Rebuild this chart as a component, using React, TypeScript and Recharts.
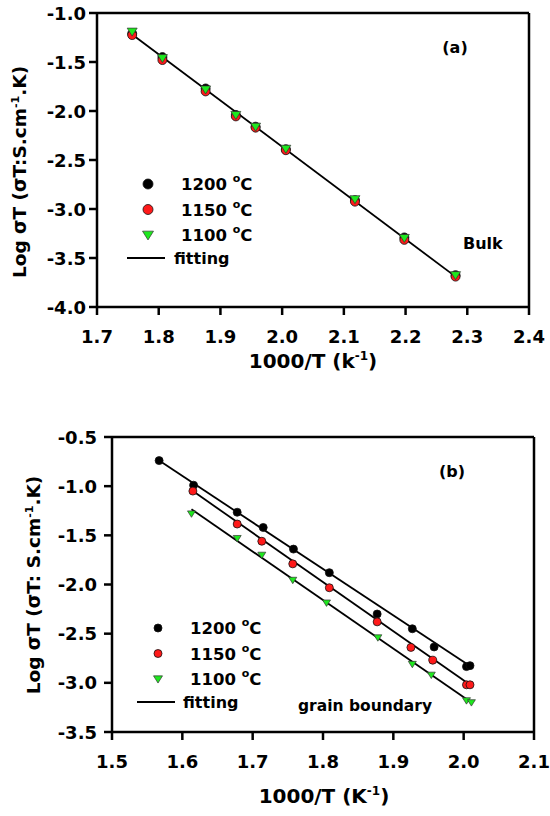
import React from 'react'
import { ComposedChart, Scatter, Line, XAxis, YAxis, ReferenceLine, Customized } from 'recharts'

// (a) bulk
const bulkX = [1.757, 1.806, 1.876, 1.925, 1.957, 2.006, 2.118, 2.198, 2.281]
const bulk1200 = [-1.21, -1.45, -1.77, -2.04, -2.16, -2.39, -2.91, -3.29, -3.675]
const bulk1150 = [-1.225, -1.48, -1.8, -2.055, -2.17, -2.4, -2.925, -3.315, -3.69]
const bulk1100 = [-1.19, -1.46, -1.78, -2.04, -2.16, -2.385, -2.9, -3.295, -3.675]
const bulkFitX = [1.757, 2.281]
const bulkFitY = [-1.22, -3.69]
const xTicksA = [1.7, 1.8, 1.9, 2.0, 2.1, 2.2, 2.3, 2.4]
const yTicksA = [-4.0, -3.5, -3.0, -2.5, -2.0, -1.5, -1.0]

// (b) grain boundary
const gb1200X = [1.567, 1.616, 1.678, 1.715, 1.758, 1.809, 1.877, 1.927, 1.958, 2.004, 2.009]
const gb1200 = [-0.74, -0.99, -1.265, -1.42, -1.64, -1.88, -2.3, -2.45, -2.635, -2.835, -2.825]
const gb1150X = [1.615, 1.678, 1.713, 1.757, 1.809, 1.877, 1.925, 1.956, 2.004, 2.009]
const gb1150 = [-1.05, -1.385, -1.56, -1.79, -2.033, -2.38, -2.64, -2.77, -3.02, -3.02]
const gb1100X = [1.613, 1.678, 1.713, 1.757, 1.805, 1.878, 1.927, 1.954, 2.004, 2.011]
const gb1100 = [-1.28, -1.53, -1.7, -1.955, -2.186, -2.54, -2.81, -2.92, -3.18, -3.2]
const gbFit1200X = [1.567, 2.009]
const gbFit1200Y = [-0.74, -2.83]
const gbFit1150X = [1.615, 2.009]
const gbFit1150Y = [-1.05, -3.02]
const gbFit1100X = [1.613, 2.011]
const gbFit1100Y = [-1.235, -3.2]
const xTicksB = [1.5, 1.6, 1.7, 1.8, 1.9, 2.0, 2.1]
const yTicksB = [-3.5, -3.0, -2.5, -2.0, -1.5, -1.0, -0.5]

const seriesNames = ['1200', '1150', '1100']

const FONT = '"DejaVu Sans", sans-serif'
const RED = '#ff1a1a'
const GREEN = '#1ee81e'

const zip = (xs: number[], ys: number[]) => xs.map((x, i) => ({ x, y: ys[i] }))

const circleShape = (fill: string, r: number) => (p: any) => (
  <circle cx={p.cx} cy={p.cy} r={r} fill={fill} stroke="#111" strokeWidth={0.8} />
)
const triPath = (cx: number, cy: number, s: number) =>
  `M${cx - s},${cy - s * 0.7}L${cx + s},${cy - s * 0.7}L${cx},${cy + s * 0.9}Z`
const triShape = (s: number) => (p: any) => (
  <path d={triPath(p.cx, p.cy, s)} fill={GREEN} stroke="#333" strokeWidth={0.7} />
)

const XTick = (props: any) => {
  const { x, y, payload } = props
  return (
    <text x={x} y={y} dy={26} textAnchor="middle" fontFamily={FONT} fontWeight="bold" fontSize={18} fill="#000">
      {payload.value.toFixed(1)}
    </text>
  )
}
const makeYTick = (shift: number) => (props: any) => {
  const { x, y, payload } = props
  return (
    <text x={x - shift} y={y} dy={6.5} textAnchor="end" fontFamily={FONT} fontWeight="bold" fontSize={18} fill="#000">
      {payload.value.toFixed(1)}
    </text>
  )
}

const t = { fontFamily: FONT, fontWeight: 'bold' as const, fill: '#000' }

// legend keys at pixel spots inside the chart
const LegendKeys = ({ lx, ty, textX, fitX, r, s }: any) => (
  <g>
    {[0, 1, 2].map(i => {
      const cy = ty + i * 25.5
      return (
        <g key={i}>
          {i === 0 && <circle cx={lx} cy={cy} r={r} fill="#000" stroke="#111" strokeWidth={0.8} />}
          {i === 1 && <circle cx={lx} cy={cy} r={r} fill={RED} stroke="#111" strokeWidth={0.8} />}
          {i === 2 && <path d={triPath(lx, cy, s)} fill={GREEN} stroke="#333" strokeWidth={0.7} />}
          <text {...t} x={textX} y={cy + 6} fontSize={16.5}>
            {seriesNames[i]} <tspan dy={-8} fontSize={11}>o</tspan><tspan dy={8}>C</tspan>
          </text>
        </g>
      )
    })}
    <path d={`M${lx - 21},${ty + 74}H${lx + 17}`} stroke="#000" strokeWidth={2} />
    <text {...t} x={fitX} y={ty + 80} fontSize={16}>fitting</text>
  </g>
)

const TextsA = () => (
  <g>
    <LegendKeys lx={148} ty={184} textX={181} fitX={174} r={5} s={5.5} />
    <text {...t} fontSize={18.5} textAnchor="middle" transform="translate(26,172) rotate(-90)">
      Log σT (σT:S.cm<tspan dy={-7} fontSize={11}>-1</tspan><tspan dy={7}>.K)</tspan>
    </text>
    <text {...t} fontSize={20} textAnchor="middle" x={313} y={368}>
      1000/T (k<tspan dy={-8} fontSize={12}>-1</tspan><tspan dy={8}>)</tspan>
    </text>
    <text {...t} fontSize={16} textAnchor="middle" x={455} y={53}>(a)</text>
    <text {...t} fontSize={16} x={463} y={249}>Bulk</text>
  </g>
)

const TextsB = () => (
  <g>
    <LegendKeys lx={158} ty={220} textX={190} fitX={183} r={4} s={4.5} />
    <text {...t} fontSize={18.5} textAnchor="middle" transform="translate(40,177) rotate(-90)">
      Log σT (σT: S.cm<tspan dy={-7} fontSize={11}>-1</tspan><tspan dy={7}>.K)</tspan>
    </text>
    <text {...t} fontSize={20} textAnchor="middle" x={324} y={395}>
      1000/T (K<tspan dy={-8} fontSize={12}>-1</tspan><tspan dy={8}>)</tspan>
    </text>
    <text {...t} fontSize={16} textAnchor="middle" x={452} y={69}>(b)</text>
    <text {...t} fontSize={15.5} x={298} y={303}>grain boundary</text>
  </g>
)

function PanelA() {
  return (
    <ComposedChart width={550} height={408} margin={{ top: 13, right: 21, bottom: 0, left: 0 }}>
      <XAxis type="number" dataKey="x" domain={[1.7, 2.4]} ticks={xTicksA}
        tick={<XTick />} tickSize={8} stroke="#000" strokeWidth={2.5} height={101} />
      <YAxis type="number" dataKey="y" domain={[-4, -1]} ticks={yTicksA}
        tick={makeYTick(1)} tickSize={8} stroke="#000" strokeWidth={2.5} width={97} />
      <ReferenceLine y={-1} stroke="#000" strokeWidth={2.5} />
      <ReferenceLine x={2.4} stroke="#000" strokeWidth={2.5} />
      <Line data={zip(bulkFitX, bulkFitY)} dataKey="y" stroke="#000" strokeWidth={1.8} dot={false} isAnimationActive={false} legendType="none" />
      <Scatter data={zip(bulkX, bulk1200)} dataKey="y" shape={circleShape('#000', 4.5)} isAnimationActive={false} />
      <Scatter data={zip(bulkX, bulk1150)} dataKey="y" shape={circleShape(RED, 4.5)} isAnimationActive={false} />
      <Scatter data={zip(bulkX, bulk1100)} dataKey="y" shape={triShape(5)} isAnimationActive={false} />
      <Customized component={TextsA} />
    </ComposedChart>
  )
}

function PanelB() {
  return (
    <ComposedChart width={550} height={408} margin={{ top: 29, right: 16, bottom: 0, left: 0 }}>
      <XAxis type="number" dataKey="x" domain={[1.5, 2.1]} ticks={xTicksB}
        tick={<XTick />} tickSize={8} stroke="#000" strokeWidth={2.5} height={84} />
      <YAxis type="number" dataKey="y" domain={[-3.5, -0.5]} ticks={yTicksB}
        tick={makeYTick(5)} tickSize={8} stroke="#000" strokeWidth={2.5} width={112} />
      <ReferenceLine y={-0.5} stroke="#000" strokeWidth={2.5} />
      <ReferenceLine x={2.1} stroke="#000" strokeWidth={2.5} />
      <Line data={zip(gbFit1200X, gbFit1200Y)} dataKey="y" stroke="#000" strokeWidth={1.8} dot={false} isAnimationActive={false} legendType="none" />
      <Line data={zip(gbFit1150X, gbFit1150Y)} dataKey="y" stroke="#000" strokeWidth={1.8} dot={false} isAnimationActive={false} legendType="none" />
      <Line data={zip(gbFit1100X, gbFit1100Y)} dataKey="y" stroke="#000" strokeWidth={1.8} dot={false} isAnimationActive={false} legendType="none" />
      <Scatter data={zip(gb1200X, gb1200)} dataKey="y" shape={circleShape('#000', 4)} isAnimationActive={false} />
      <Scatter data={zip(gb1150X, gb1150)} dataKey="y" shape={circleShape(RED, 4)} isAnimationActive={false} />
      <Scatter data={zip(gb1100X, gb1100)} dataKey="y" shape={triShape(4)} isAnimationActive={false} />
      <Customized component={TextsB} />
    </ComposedChart>
  )
}

export default function App() {
  return (
    <div style={{ position: 'absolute', left: 0, top: 0, width: 550, height: 816, background: '#fff' }}>
      <div style={{ position: 'absolute', left: 0, top: 0 }}>
        <PanelA />
      </div>
      <div style={{ position: 'absolute', left: 0, top: 408 }}>
        <PanelB />
      </div>
    </div>
  )
}
